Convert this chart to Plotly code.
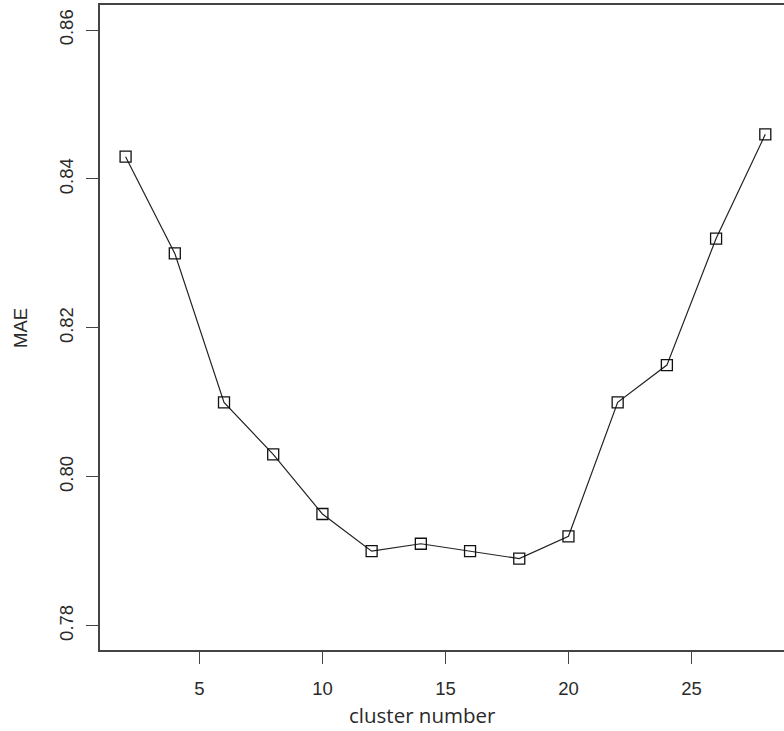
import plotly.graph_objects as go

cluster_number = [2, 4, 6, 8, 10, 12, 14, 16, 18, 20, 22, 24, 26, 28]
mae = [0.843, 0.830, 0.810, 0.803, 0.795, 0.790, 0.791, 0.790, 0.789, 0.792, 0.810, 0.815, 0.832, 0.846]
x_ticks = [5, 10, 15, 20, 25]
y_ticks = [0.78, 0.80, 0.82, 0.84, 0.86]
y_tick_labels = ["0.78", "0.80", "0.82", "0.84", "0.86"]

fig = go.Figure()
fig.add_trace(go.Scatter(
    x=cluster_number, y=mae, mode="lines+markers",
    line=dict(color="#222222", width=1.2),
    marker=dict(symbol="square-open", size=11, color="#111111", line=dict(width=1.3)),
    showlegend=False,
))

tick_font = dict(family="Liberation Sans, Arial", size=18.5, color="#2a2a2a")

fig.update_layout(
    width=784, height=731,
    margin=dict(l=100, r=0, t=5, b=81),
    paper_bgcolor="white", plot_bgcolor="white",
    font=dict(family="Liberation Sans, Arial", size=18, color="#2a2a2a"),
    xaxis=dict(
        range=[0.96, 28.76], tickvals=x_ticks, showgrid=False, zeroline=False,
        showline=True, mirror=True, linecolor="#444444", linewidth=1.5,
        ticks="outside", ticklen=12, tickcolor="#444444", ticklabelstandoff=9,
        tickfont=tick_font,
    ),
    yaxis=dict(
        range=[0.77673, 0.86337], tickvals=y_ticks, ticktext=y_tick_labels,
        showgrid=False, zeroline=False,
        showline=True, linecolor="#444444", linewidth=1.5,
        ticks="outside", ticklen=12, tickcolor="#444444",
        tickangle=-90, ticklabelstandoff=6,
        tickfont=tick_font,
    ),
    annotations=[
        dict(text="cluster number", xref="paper", yref="paper", x=(422 - 100) / 684, y=-(715 - 650) / 645,
             xanchor="center", yanchor="middle", showarrow=False,
             font=dict(family="Open Sans, Noto Sans", size=20.5, color="#2a2a2a")),
        dict(text="MAE", xref="paper", yref="paper", x=-(100 - 20) / 684, y=(650 - 328) / 645,
             xanchor="center", yanchor="middle", showarrow=False, textangle=-90,
             font=dict(family="Liberation Sans, Arial", size=18.5, color="#2a2a2a")),
    ],
)

fig.write_html("out.html", config={"displayModeBar": False},
               post_script="document.body.style.margin='0';")
